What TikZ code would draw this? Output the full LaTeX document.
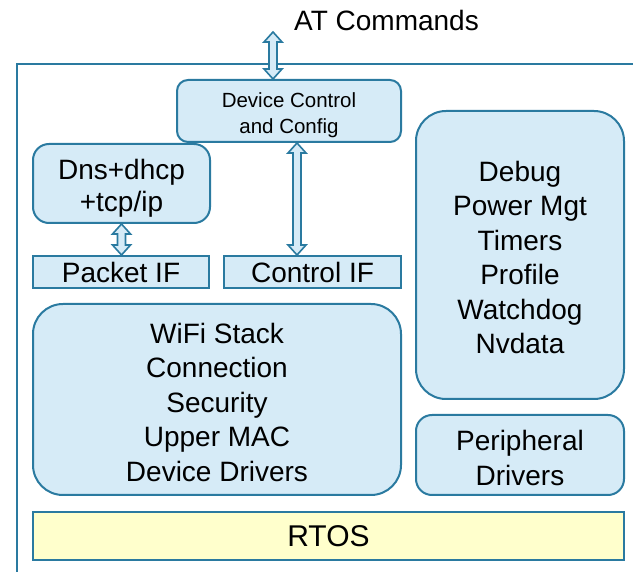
\documentclass[tikz,border=0pt]{standalone}
\usepackage{fontspec}
\setmainfont{Liberation Sans}
\usepackage{tikz}
\usetikzlibrary{positioning}
\usetikzlibrary{calc}
\definecolor{blkline}{RGB}{42,122,160}
\definecolor{blkfill}{RGB}{214,235,247}
\definecolor{osfill}{RGB}{255,255,204}
\tikzset{blk/.style={draw=blkline, fill=blkfill, line width=2pt, rounded corners=#1, align=center, inner sep=0pt},
         blk/.default=15pt}
\tikzset{iface/.style={draw=blkline, fill=blkfill, line width=2pt, inner sep=0pt}}
\tikzset{dbl/.style={draw=blkline, fill=blkfill, line width=1.6pt, line join=miter}}
\tikzset{big/.style={font=\fontsize{28}{34.5}\selectfont}}
% taller first line pushes the lines down a bit
\newcommand{\lift}[1]{\rule{0pt}{#1}}
% hollow double headed arrow, top tip #1, bottom tip #2
\newcommand{\dblarrow}[2]{%
\draw[dbl] let \p1=#1, \p2=#2 in
  (\x1,\y1) -- (\x1+9pt,\y1-10pt) -- (\x1+4pt,\y1-10pt) -- (\x1+4pt,\y2+10pt)
  -- (\x1+9pt,\y2+10pt) -- (\x1,\y2) -- (\x1-9pt,\y2+10pt) -- (\x1-4pt,\y2+10pt)
  -- (\x1-4pt,\y1-10pt) -- (\x1-9pt,\y1-10pt) -- cycle;
}
\begin{document}
\begin{tikzpicture}[x=1pt,y=-1pt]
\useasboundingbox (0,0) rectangle (633,572);
% outer frame
\draw[blkline, line width=2pt] (17,572) -- (17,64) -- (633,64);
\node[font=\fontsize{28}{34}\selectfont] (atcmd) at (386.5,20) {AT Commands};
\coordinate (atin) at (273,32);
\node[blk=11pt, minimum width=224pt, minimum height=62pt, font=\fontsize{20.5}{26}\selectfont] (dev) at (289,111) {\lift{23pt}Device Control\\and Config};
\node[blk=16pt, minimum width=177pt, minimum height=79pt, font=\fontsize{28}{32}\selectfont] (dns) at (121.5,183.5) {\lift{30pt}Dns+dhcp\\+tcp/ip};
\node[iface, big, minimum width=176pt, minimum height=32pt] (pkt) at (121,272) {Packet IF};
\node[iface, big, minimum width=177pt, minimum height=32pt] (ctrl) at (312.5,272) {Control IF};
\node[blk=30pt, big, minimum width=368pt, minimum height=191pt] (wifi) at (217,399.5) {\lift{26pt}WiFi Stack\\Connection\\Security\\Upper MAC\\Device Drivers};
\node[blk=30pt, big, minimum width=208pt, minimum height=288pt] (dbg) at (520,255) {\lift{25pt}Debug\\Power Mgt\\Timers\\Profile\\Watchdog\\Nvdata};
\node[blk=16pt, big, minimum width=208pt, minimum height=80pt] (periph) at (520,455) {\lift{26pt}Peripheral\\Drivers};
\node[iface, fill=osfill, minimum width=591pt, minimum height=48pt, font=\fontsize{30}{36}\selectfont] (rtos) at (328.5,536) {RTOS};
% arrows
\dblarrow{(atin)}{(dev.north -| atin)}
\dblarrow{($(dev.south)+(8,0)$)}{(ctrl.north)}
\dblarrow{(dns.south)}{(pkt.north)}
\end{tikzpicture}
\end{document}
